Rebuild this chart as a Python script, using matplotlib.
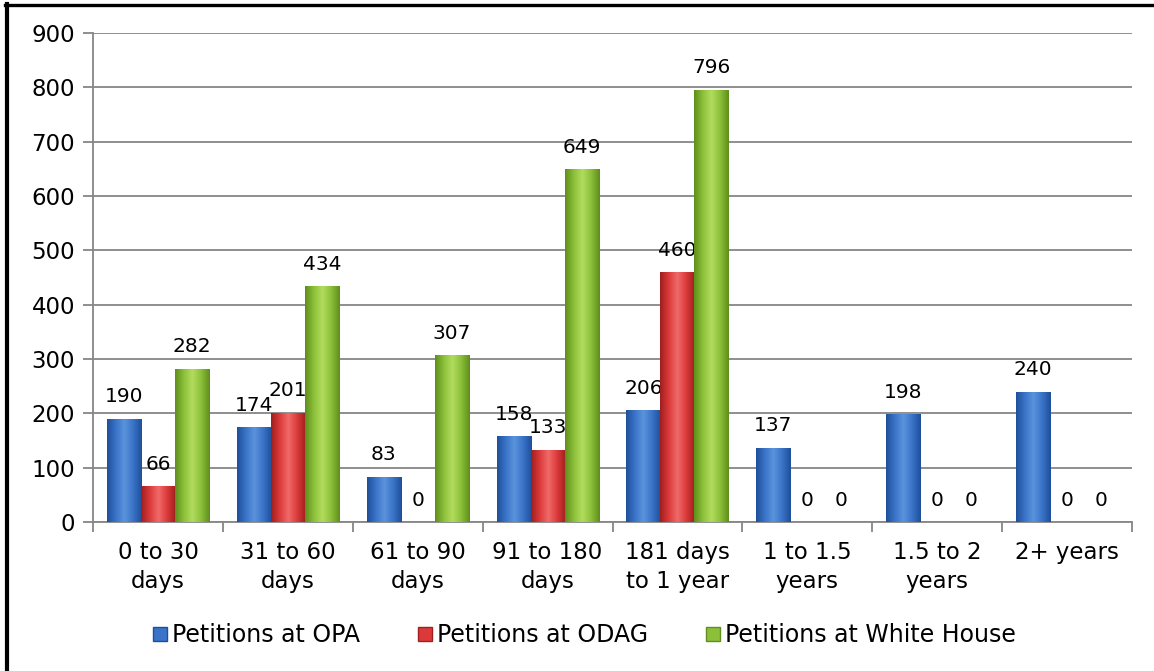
import numpy as np
import matplotlib
matplotlib.use("Agg")
import matplotlib.pyplot as plt
from matplotlib.colors import LinearSegmentedColormap
from matplotlib.lines import Line2D

categories = ["0 to 30\ndays", "31 to 60\ndays", "61 to 90\ndays", "91 to 180\ndays",
              "181 days\nto 1 year", "1 to 1.5\nyears", "1.5 to 2\nyears", "2+ years"]
opa = [190, 174, 83, 158, 206, 137, 198, 240]
odag = [66, 201, 0, 133, 460, 0, 0, 0]
white_house = [282, 434, 307, 649, 796, 0, 0, 0]
series_names = ["Petitions at OPA", "Petitions at ODAG", "Petitions at White House"]

# (dark edge, mid, light highlight)
shades = [("#1f4f9a", "#3a74c8", "#5b93dc"),
          ("#a11f1f", "#dc3a3a", "#f06a6a"),
          ("#5f8f1c", "#8cc03a", "#b2dc5e")]

plt.rcParams['font.family'] = ['DejaVu Sans']
fig = plt.figure(figsize=(11.54, 6.71), dpi=100)
ax = fig.add_axes([0.0806, 0.222, 0.9004, 0.7288])

x = np.arange(len(categories))
w = 0.262
grad = np.linspace(0, 1, 64).reshape(1, -1)

for i, (vals, (dk, md, lt)) in enumerate(zip([opa, odag, white_house], shades)):
    bars = ax.bar(x + (i - 1) * w, vals, w, color=md, edgecolor="none", zorder=3)
    cmap = LinearSegmentedColormap.from_list("g%d" % i, [dk, md, lt, md, dk], N=256)
    for b in bars:
        if b.get_height() <= 0:
            continue
        im = ax.imshow(grad, cmap=cmap, aspect="auto", zorder=3.1,
                       extent=[b.get_x(), b.get_x() + b.get_width(), 0, b.get_height()])
        im.set_clip_path(b)
    for xi, v in zip(x + (i - 1) * w, vals):
        ax.annotate(str(v), (xi, v), xytext=(0, 9), textcoords="offset points",
                    ha="center", va="bottom", fontsize=14.5, color="black")

ax.set_xlim(-0.5, len(categories) - 0.5)
ax.set_ylim(0, 900)
ax.set_yticks(np.arange(0, 901, 100))
ax.set_xticks(np.arange(len(categories) + 1) - 0.5, minor=False)
ax.set_xticklabels([])
ax.set_xticks(x, minor=True)
ax.set_xticklabels(categories, minor=True, fontsize=16.5, linespacing=1.3)
ax.tick_params(axis="x", which="minor", length=0, pad=14)
ax.tick_params(axis="x", which="major", length=7, width=1.3, color="#868686")
ax.tick_params(axis="y", length=7, width=1.3, color="#868686", labelsize=16.5, pad=6)
ax.yaxis.grid(True, color="#868686", linewidth=1.3, zorder=0)
ax.set_axisbelow(True)
for s in ["top", "right"]:
    ax.spines[s].set_visible(False)
for s in ["left", "bottom"]:
    ax.spines[s].set_color("#868686")
    ax.spines[s].set_linewidth(1.3)

handles = [Line2D([], [], marker="s", linestyle="none", markersize=10,
                  markerfacecolor=sh[1], markeredgecolor=sh[0]) for sh in shades]
fig.legend(handles, series_names, loc="center", bbox_to_anchor=(0.506, 0.054),
           ncol=3, frameon=False, fontsize=17, handletextpad=0.15,
           columnspacing=2.4, handlelength=0.7)

# chart frame: only the top and left edges show
fig.add_artist(Line2D([0.0043, 1.0], [0.9925, 0.9925], color="black", linewidth=2.4,
                      transform=fig.transFigure))
fig.add_artist(Line2D([0.0061, 0.0061], [0.0, 0.9945], color="black", linewidth=3.0,
                      transform=fig.transFigure))

fig.savefig("out.png", dpi=100)
